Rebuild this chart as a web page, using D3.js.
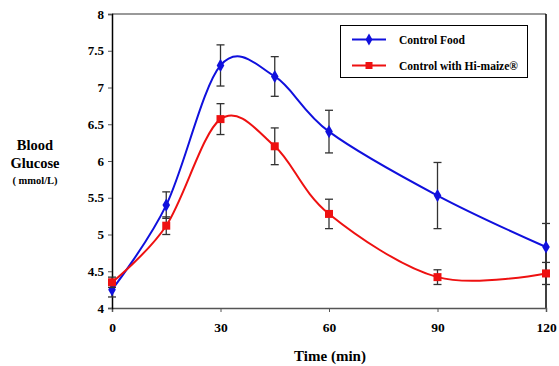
<!DOCTYPE html>
<html>
<head>
<meta charset="utf-8">
<script src="https://cdn.jsdelivr.net/npm/d3@7"></script>
<style>
  body { margin: 0; background: #fff; }
</style>
</head>
<body>
<div id="chart"></div>
<script>
// data
let times = [0, 15, 30, 45, 60, 90, 120];
let controlFood = [4.25, 5.4, 7.3, 7.15, 6.4, 5.53, 4.83];
let controlFoodErr = [0.1, 0.18, 0.28, 0.27, 0.29, 0.45, 0.32];
let hiMaize = [4.35, 5.12, 6.57, 6.2, 5.28, 4.42, 4.47];
let hiMaizeErr = [0.07, 0.12, 0.21, 0.25, 0.2, 0.1, 0.15];
let xTicks = [0, 30, 60, 90, 120];
let yTicks = [4, 4.5, 5, 5.5, 6, 6.5, 7, 7.5, 8];
let seriesNames = ["Control Food", "Control with Hi-maize\u00AE"];

let serif = "'Liberation Serif', 'Times New Roman', serif";

let margin = {top: 14, right: 13, bottom: 58, left: 112};
let width = 559 - margin.left - margin.right;
let height = 366 - margin.top - margin.bottom;

let svg = d3.select("#chart").append("svg")
    .attr("width", 559)
    .attr("height", 366)
    .attr("font-family", serif)
    .attr("font-weight", "bold");

let g = svg.append("g")
    .attr("transform", `translate(${margin.left},${margin.top})`);

let x = d3.scaleLinear().domain([0, 120]).range([0, width]);
let y = d3.scaleLinear().domain([4, 8]).range([height, 0]);

// frame
g.append("line").attr("x1", 0).attr("x2", width).attr("y1", 0).attr("y2", 0)
    .attr("stroke", "#777").attr("stroke-width", 1.5);
g.append("line").attr("x1", width).attr("x2", width).attr("y1", 0).attr("y2", height)
    .attr("stroke", "#000").attr("stroke-width", 1.5);

// axes
let xAxis = d3.axisBottom(x).tickValues(xTicks).tickSize(4).tickFormat(d3.format("d"));
let yAxis = d3.axisLeft(y).tickValues(yTicks).tickSize(4).tickFormat(d => d);

let xg = g.append("g").attr("transform", `translate(0,${height})`).call(xAxis)
    .attr("font-family", serif);
xg.select(".domain").attr("stroke", "#555").attr("stroke-width", 1.5);
xg.selectAll(".tick line").attr("stroke", "#555");
xg.selectAll("text").attr("font-size", 13.5).attr("dy", "1.25em")
    .attr("font-weight", "bold").attr("fill", "#000");

let yg = g.append("g").call(yAxis)
    .attr("font-family", serif);
yg.select(".domain").attr("stroke", "#000").attr("stroke-width", 1.5);
yg.selectAll(".tick line").attr("stroke", "#555");
yg.selectAll("text").attr("font-size", 13).attr("x", -8)
    .attr("font-weight", "bold").attr("fill", "#000");

// axis titles
svg.append("text")
    .attr("x", 330).attr("y", 361)
    .attr("text-anchor", "middle")
    .attr("font-size", 15)
    .text("Time (min)");

let yTitle = svg.append("text")
    .attr("x", 35).attr("y", 150)
    .attr("text-anchor", "middle")
    .attr("font-size", 14.5);
yTitle.append("tspan").attr("x", 35).attr("dy", 0).text("Blood");
yTitle.append("tspan").attr("x", 35).attr("dy", 18).text("Glucose");
yTitle.append("tspan").attr("x", 35).attr("dy", 16).attr("font-size", 10.5).text("( mmol/L)");

let line = d3.line()
    .x(d => x(d.t))
    .y(d => y(d.v))
    .curve(d3.curveCardinal.tension(0));

function drawSeries(values, errs, color, shape) {
    let data = times.map((t, i) => ({t: t, v: values[i], e: errs[i]}));

    g.append("path")
        .datum(data)
        .attr("fill", "none")
        .attr("stroke", color)
        .attr("stroke-width", 2)
        .attr("d", line);

    let eb = g.append("g").attr("stroke", "#333").attr("stroke-width", 1.3);
    data.forEach(d => {
        eb.append("line").attr("x1", x(d.t)).attr("x2", x(d.t))
            .attr("y1", y(d.v - d.e)).attr("y2", y(d.v + d.e));
        [d.v - d.e, d.v + d.e].forEach(v => {
            eb.append("line").attr("x1", x(d.t) - 4).attr("x2", x(d.t) + 4)
                .attr("y1", y(v)).attr("y2", y(v));
        });
    });

    g.selectAll(null)
        .data(data)
        .enter()
        .append("path")
        .attr("transform", d => `translate(${x(d.t)},${y(d.v)})`)
        .attr("d", d3.symbol().type(shape).size(shape === d3.symbolSquare ? 64 : 50))
        .attr("fill", color);
}

drawSeries(controlFood, controlFoodErr, "#1010dd", d3.symbolDiamond);
drawSeries(hiMaize, hiMaizeErr, "#ee1111", d3.symbolSquare);

// legend
let legend = svg.append("g");
legend.append("rect")
    .attr("x", 340.5).attr("y", 25.5).attr("width", 187).attr("height", 52)
    .attr("fill", "#fff").attr("stroke", "#000").attr("stroke-width", 1);

let legendColors = ["#1010dd", "#ee1111"];
let legendShapes = [d3.symbolDiamond, d3.symbolSquare];
seriesNames.forEach((name, i) => {
    let ly = 39.5 + i * 26;
    legend.append("line").attr("x1", 352).attr("x2", 386).attr("y1", ly).attr("y2", ly)
        .attr("stroke", legendColors[i]).attr("stroke-width", 2);
    legend.append("path")
        .attr("transform", `translate(369,${ly})`)
        .attr("d", d3.symbol().type(legendShapes[i]).size(i === 1 ? 49 : 40))
        .attr("fill", legendColors[i]);
    legend.append("text")
        .attr("x", 399).attr("y", ly + 4)
        .attr("font-size", 11.5)
        .text(name);
});
</script>
</body>
</html>
